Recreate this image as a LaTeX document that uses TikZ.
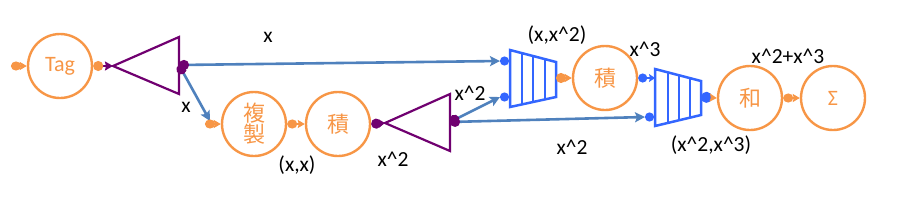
\documentclass[tikz,border=0pt]{standalone}
\usepackage{fontspec}
\setmainfont{Carlito}
\newfontfamily\cjk{Noto Sans CJK JP}
\usetikzlibrary{arrows.meta}
\definecolor{tagorange}{RGB}{247,150,70}
\definecolor{linkblue}{RGB}{79,129,189}
\definecolor{muxblue}{RGB}{51,102,255}
\definecolor{gatepurple}{RGB}{112,0,112}
\begin{document}
\begin{tikzpicture}[x=1pt,y=-1pt,
  op/.style={circle,draw=tagorange,line width=2.4pt,minimum size=64pt,inner sep=0pt,
    text=tagorange,font=\fontsize{22}{22}\selectfont},
  cjkop/.style={op,font=\cjk\fontsize{22}{22}\selectfont},
  lbl/.style={font=\fontsize{21.5}{22}\selectfont,inner sep=0pt,text=black},
  gateshape/.style={draw=gatepurple,line width=2.2pt,line join=miter},
  muxshape/.style={draw=muxblue,line width=2.5pt,line join=miter},
  olink/.style={draw=tagorange,line width=2.2pt,{Circle[length=10pt,width=9pt]}-{Stealth[length=7pt,width=8pt,inset=1pt]}},
  bport/.style={draw=muxblue,line width=2.2pt,{Circle[length=9pt,width=9pt]}-{Stealth[length=6pt,width=8pt,inset=1pt]}},
  blink/.style={draw=linkblue,line width=2.6pt,{Circle[length=10pt,width=10pt,color=gatepurple]}-{Stealth[length=10pt,width=10pt,inset=2pt]}}
]
\useasboundingbox (0,0) rectangle (897,202);

% operator circles
\node[op] (tag) at (60,66) {Tag};
\node[cjkop,align=center] (dup) at (254,124) {複\\[-1pt]製};
\node[cjkop] (mulA) at (338,124) {積};
\node[cjkop] (mulB) at (605,78) {積};
\node[cjkop] (add) at (750,98) {和};
\node[op] (sum) at (833,98) {Σ};

% gates (triangles)
\coordinate (gAapex) at (113,66);
\coordinate (gAout) at (179,65);
\draw[gateshape] (gAapex) -- (179,37) -- (179,94) -- cycle;
\coordinate (gBapex) at (385,123);
\coordinate (gBout) at (450,122);
\draw[gateshape] (gBapex) -- (450,94) -- (450,151) -- cycle;

% multiplexers (trapezia)
\draw[muxshape] (510,50) -- (556,62) -- (556,97) -- (510,107) -- cycle;
\draw[muxshape] (522,53.1) -- (522,104.4) (533,56) -- (533,102) (545,59.1) -- (545,99.4);
\coordinate (mAinT) at (510,61);
\coordinate (mAinB) at (510,97);
\coordinate (mAout) at (556,78);
\draw[muxshape] (655,69) -- (701,81) -- (701,115) -- (655,126) -- cycle;
\draw[muxshape] (668,72.4) -- (668,122.9) (679,75.3) -- (679,120.3) (690,78.1) -- (690,117.6);
\coordinate (mBinT) at (655,78);
\coordinate (mBinB) at (655,117);
\coordinate (mBout) at (701,97);

% ports
\coordinate (src) at (11,66);
\coordinate (dupin) at (205,124);
\coordinate (mApT) at (500,61);
\coordinate (mApB) at (500,97);
\coordinate (mBpB) at (645,117);

% connectors
\draw[olink] (src) -- (tag.west);
\draw[draw=gatepurple,line width=2.2pt,{Circle[length=10pt,width=10pt,color=tagorange]}-{Stealth[length=8pt,width=9pt,inset=1pt]}] (tag.east) -- (gAapex);
\draw[blink] (gAout) -- (mApT);
\draw[blink] (gAout) -- (210,121);
\draw[olink] (dupin) -- (dup.west);
\draw[olink] (dup.east) -- (mulA.west);
\draw[draw=gatepurple,line width=2.2pt,{Circle[length=10pt,width=10pt]}-{Stealth[length=6pt,width=8pt,inset=1pt]}] (mulA.east) -- (gBapex);
\draw[blink] (gBout) -- (mApB);
\draw[blink] (gBout) -- (mBpB);
\draw[bport] (mApT) -- (mAinT);
\draw[bport] (mApB) -- (mAinB);
\draw[draw=tagorange,line width=2.2pt,{Circle[length=10pt,width=10pt]}-{Stealth[length=7pt,width=8pt,inset=1pt]}] (mAout) -- (mulB.west);
\draw[bport] (mulB.east) -- (mBinT);
\draw[bport] (mBpB) -- (mBinB);
\draw[draw=tagorange,line width=2.2pt,{Circle[length=11pt,width=11pt,color=muxblue]}-{Stealth[length=7pt,width=8pt,inset=1pt]}] (mBout) -- (add.west);
\draw[olink] (add.east) -- (sum.west);

% labels
\node[lbl] (lx1) at (268,37) {x};
\node[lbl] (lx2) at (186,107) {x};
\node[lbl] (lxx) at (297,165) {(x,x)};
\node[lbl] (lsq1) at (393,159) {x\^{}2};
\node[lbl] (lsq2) at (470,93) {x\^{}2};
\node[lbl] (lsq3) at (572,147) {x\^{}2};
\node[lbl] (lpairA) at (557,35) {(x,x\^{}2)};
\node[lbl] (lcube) at (645,49) {x\^{}3};
\node[lbl] (lsumv) at (788,56) {x\^{}2+x\^{}3};
\node[lbl] (lpairB) at (711,145) {(x\^{}2,x\^{}3)};
\end{tikzpicture}
\end{document}
